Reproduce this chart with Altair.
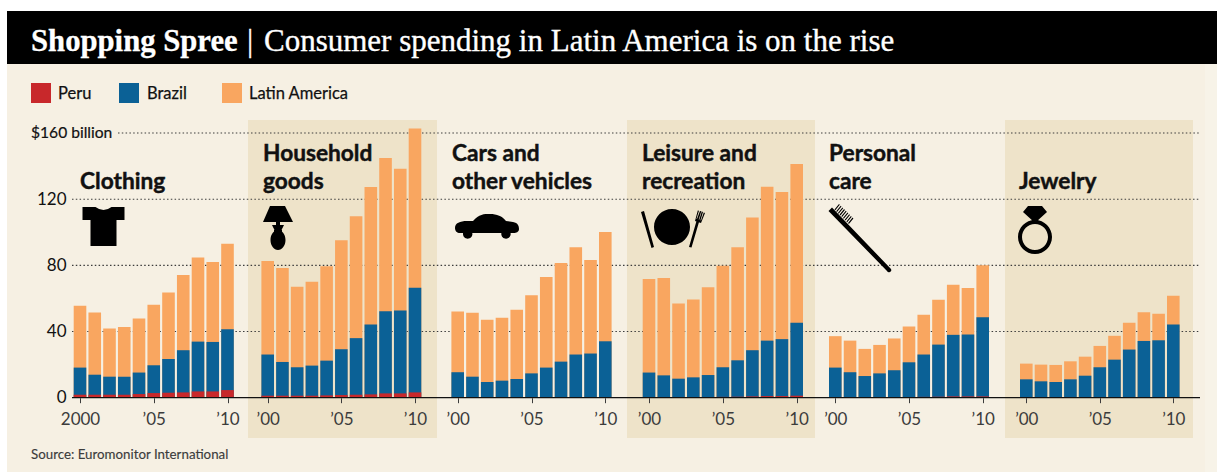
import altair as alt
import pandas as pd

YEARS = list(range(2000, 2011))

CATEGORIES = ["Clothing", "Household goods", "Cars and other vehicles",
              "Leisure and recreation", "Personal care", "Jewelry"]

# Consumer spending, billions of dollars
LATAM = [
    [55.6, 51.5, 41.8, 42.8, 47.9, 56.2, 63.6, 74.1, 84.8, 82.0, 93.1],
    [82.6, 78.4, 67.1, 70.1, 79.4, 95.2, 109.7, 127.3, 144.9, 138.4, 162.7],
    [52.1, 51.3, 47.1, 48.3, 53.1, 62.0, 72.9, 81.4, 90.9, 83.2, 100.2],
    [71.7, 72.3, 57.0, 59.4, 66.7, 79.8, 90.9, 108.9, 127.5, 124.4, 141.2],
    [37.2, 34.5, 29.5, 31.9, 35.8, 43.0, 50.1, 59.2, 68.3, 66.3, 80.0],
    [20.6, 20.0, 19.8, 22.0, 24.8, 31.3, 37.4, 45.3, 51.7, 50.7, 61.6],
]
BRAZIL = [
    [18.2, 13.9, 12.7, 12.7, 15.2, 19.6, 23.4, 28.7, 33.9, 33.7, 41.4],
    [26.1, 21.6, 18.4, 19.4, 22.4, 29.3, 36.0, 44.2, 52.3, 52.7, 66.5],
    [15.4, 12.7, 9.5, 10.3, 11.3, 14.7, 18.2, 21.8, 26.1, 26.7, 34.1],
    [15.2, 13.5, 11.5, 12.3, 13.7, 18.4, 22.6, 28.7, 34.5, 35.4, 45.3],
    [18.2, 15.4, 13.1, 14.7, 16.6, 21.4, 26.1, 32.1, 38.0, 38.2, 48.7],
    [11.1, 9.9, 9.5, 11.1, 13.3, 18.4, 23.0, 29.1, 34.3, 34.7, 44.2],
]
PERU = [
    [1.8, 1.8, 1.8, 1.8, 2.2, 2.8, 3.0, 3.2, 3.8, 3.8, 4.6],
    [1.2, 1.2, 1.2, 1.2, 1.4, 1.6, 1.8, 2.0, 2.6, 2.6, 3.2],
    [0, 0, 0, 0, 0, 0, 0, 0, 0, 0, 0],
    [0.2, 0.2, 0.3, 0.3, 0.4, 0.5, 0.6, 0.8, 1.0, 1.0, 1.2],
    [0.2, 0.2, 0.2, 0.2, 0.3, 0.4, 0.5, 0.6, 0.8, 0.8, 0.8],
    [0, 0, 0, 0, 0, 0, 0, 0, 0, 0, 0],
]

Y_TICKS = [0, 40, 80, 120]
GRID_VALUES = [40, 80, 120]

PERU_RED = "#c8282b"
BRAZIL_BLUE = "#0b6196"
LATAM_ORANGE = "#f9a660"
CREAM = "#f6f0e3"
TINT = "#eee3c9"
INK = "#111111"
GREY = "#3c3c3c"
SANS = "Lato"
SLAB = "Liberation Serif"

# x-range of each small multiple: pixel centre of its 2000 and 2010 bars
PANEL_RANGES = [(80, 227.5), (267.7, 415), (457.7, 605.3),
                (649, 796.7), (835.3, 982.7), (1026.3, 1173.3)]

y_scale = alt.Scale(domain=[0, 160], range=[397.7, 133], nice=False, zero=False)
one_row = pd.DataFrame({"n": [0]})


def rect(x, x2, y, y2, color):
    return alt.Chart(one_row).mark_rect(color=color).encode(
        x=alt.value(x), x2=alt.value(x2), y=alt.value(y), y2=alt.value(y2))


def label(text, x, y, size, font=SANS, weight="normal", color=INK, heft=0):
    return alt.Chart(one_row).mark_text(
        text=text, align="left", baseline="alphabetic", font=font,
        fontSize=size, fontWeight=weight, color=color, stroke=color, strokeWidth=heft,
    ).encode(x=alt.value(x), y=alt.value(y))


def heading(text, x, y):
    return label(text, x, y, 22.7, weight="bold", heft=0.45)


def icon(path, x, y):
    # size 4 makes one unit of the symbol path equal one pixel
    return alt.Chart(one_row).mark_point(
        shape=path, size=4, filled=True, color="#000000", opacity=1, strokeWidth=0,
    ).encode(x=alt.value(x), y=alt.value(y))


def bars(panel, values, color, with_axis):
    table = pd.DataFrame({"year": YEARS, "value": values})
    lo, hi = PANEL_RANGES[panel]
    first_label = "'2000'" if panel == 0 else "'’00'"
    x_axis = alt.Axis(
        orient="bottom",
        values=[2000, 2005, 2010], title=None, domain=False, grid=False,
        labelExpr=f"datum.value == 2000 ? {first_label} : "
                  "(datum.value == 2005 ? '’05' : '’10')",
        labelFont=SANS, labelFontSize=17, labelColor=GREY, labelPadding=9,
        tickColor=GREY, tickSize=5, tickWidth=1, offset=-74.3, zindex=1,
        labelFlush=False, labelOverlap=False, labelBound=False,
    ) if with_axis else None
    y_axis = alt.Axis(
        orient="left",
        values=Y_TICKS, title=None, domain=False, ticks=False, grid=False,
        labelFont=SANS, labelFontSize=17, labelColor=INK, labelPadding=2,
        offset=-68, zindex=1,
    ) if (with_axis and panel == 0) else None
    return alt.Chart(table).mark_bar(size=12.6, color=color, orient="vertical").encode(
        x=alt.X("year:Q", axis=x_axis,
                scale=alt.Scale(domain=[2000, 2010], range=[lo, hi], nice=False,
                                zero=False, padding=0)),
        y=alt.Y("value:Q", axis=y_axis, scale=y_scale, stack=None),
    )


T_SHIRT = "M-21,-19 L-8,-19 Q0,-13 8,-19 L21,-19 L21,-6 L13,-6 L13,20 L-13,20 L-13,-6 L-21,-6 Z"
LAMP = ("M-8,-22 L7,-22 L15,-6 L-15,-6 Z M-2,-6 L2,-6 L2,-3 L-2,-3 Z "
        "M-6,-3 L6,-3 L3,3 L-3,3 Z "
        "M-7.5,12 A7.5,10 0 1,1 7.5,12 A7.5,10 0 1,1 -7.5,12 Z "
        "M-4,2 L4,2 L4,5 L-4,5 Z")
CAR = ("M-32,2 C-32,-3 -27,-5 -20,-5 L-14,-5 C-8,-12 -3,-12 3,-12 C10,-12 15,-10 19,-5 "
       "L26,-4 C31,-3 32,0 32,3 C32,6 29,7 27,7 L-27,7 C-30,7 -32,5 -32,2 Z "
       "M-24,8 A4.7,4.7 0 1,1 -14.6,8 A4.7,4.7 0 1,1 -24,8 Z "
       "M14.3,8 A4.7,4.7 0 1,1 23.7,8 A4.7,4.7 0 1,1 14.3,8 Z")
PLATE = ("M-18,0 A18,18 0 1,1 18,0 A18,18 0 1,1 -18,0 Z "
         "M-31,-15 L-28,-16 L-18,20 L-20.5,21 Z "
         "M17,20 L19.5,20.5 L27,-5 L24.5,-6 Z "
         "M23,-6 L29,-4 L33,-14 L31.8,-14.4 L29,-6.5 L28.5,-6.7 L31,-15 L29.8,-15.4 L27.2,-7.2 "
         "L26.7,-7.4 L29.3,-15.7 L28,-16 L25,-8 L24.5,-8.2 L27,-16.3 L25.8,-16.6 Z")
# Toothbrush: a rounded handle and a compact block of short bristles
BRISTLES = " ".join(
    f"M{-25.5 + i * 1.7:.1f},{-30.5 + i * 1.7:.1f} L{-21 + i * 1.7:.1f},{-36 + i * 1.7:.1f} "
    f"L{-20.2 + i * 1.7:.1f},{-35.2 + i * 1.7:.1f} L{-24.7 + i * 1.7:.1f},{-29.7 + i * 1.7:.1f} Z"
    for i in range(9))
BRUSH = ("M-31.5,-29 L-28,-32.5 L31,29 Q32,31 30,32 Q28,33 27,31 Z " + BRISTLES)
RING = ("M-7,-21 L7,-21 L12,-15 L1,-5 L-1,-5 L-12,-15 Z "
        "M-17,10 A17,17 0 1,1 17,10 A17,17 0 1,1 -17,10 Z "
        "M-13,10 A13,13 0 1,0 13,10 A13,13 0 1,0 -13,10 Z")

dots = dict(color=GREY, strokeDash=[1.5, 2.3], strokeWidth=1.1)

layers = [
    rect(7, 1217, 64, 472, CREAM),
    rect(1205, 1217, 64, 472, "#f7f3e8"),
    rect(7, 1217, 11, 64, "#000000"),
    rect(248, 437, 120, 438, TINT),
    rect(627, 815, 120, 438, TINT),
    rect(1005, 1193, 120, 438, TINT),
    label("Shopping Spree", 31, 51, 30.7, SLAB, "bold", "#ffffff", 0.3),
    label("|", 247, 51, 31, SLAB, "normal", "#ffffff", 0.3),
    label("Consumer spending in Latin America is on the rise", 264, 51, 31, SLAB, "normal", "#ffffff", 0.35),
    rect(31, 51, 83, 103, PERU_RED),
    rect(119, 139, 83, 103, BRAZIL_BLUE),
    rect(222, 242, 83, 103, LATAM_ORANGE),
    label("Peru", 58, 99, 16.5, heft=0.25),
    label("Brazil", 147, 99, 16.5, heft=0.25),
    label("Latin America", 249, 99, 16.5, heft=0.25),
    alt.Chart(pd.DataFrame({"v": GRID_VALUES})).mark_rule(**dots).encode(
        x=alt.value(72), x2=alt.value(1200),
        y=alt.Y("v:Q", axis=None, scale=y_scale)),
    alt.Chart(pd.DataFrame({"v": [160]})).mark_rule(**dots).encode(
        x=alt.value(118), x2=alt.value(1200),
        y=alt.Y("v:Q", axis=None, scale=y_scale)),
    alt.Chart(pd.DataFrame({"v": [160]})).mark_text(
        text="$160 billion", align="left", baseline="middle", font=SANS, fontSize=15.6,
        color=INK, stroke=INK, strokeWidth=0.2,
    ).encode(x=alt.value(31), y=alt.Y("v:Q", axis=None, scale=y_scale)),
]

for i in range(len(CATEGORIES)):
    layers.append(bars(i, LATAM[i], LATAM_ORANGE, True))
    layers.append(bars(i, BRAZIL[i], BRAZIL_BLUE, False))
    layers.append(bars(i, PERU[i], PERU_RED, False))

layers += [
    alt.Chart(pd.DataFrame({"v": [0]})).mark_rule(color=INK, strokeWidth=1.3).encode(
        x=alt.value(72), x2=alt.value(1200), y=alt.Y("v:Q", axis=None, scale=y_scale)),
    heading("Clothing", 80, 189),
    heading("Household", 263, 161),
    heading("goods", 263, 189),
    heading("Cars and", 452, 161),
    heading("other vehicles", 452, 189),
    heading("Leisure and", 642, 161),
    heading("recreation", 642, 189),
    heading("Personal", 829, 161),
    heading("care", 829, 189),
    heading("Jewelry", 1019, 189),
    icon(T_SHIRT, 103.5, 226),
    icon(LAMP, 278, 228),
    icon(CAR, 487, 226),
    icon(PLATE, 672, 227),
    icon(BRUSH, 860, 240),
    icon(RING, 1035, 227),
    label("Source: Euromonitor International", 31, 459, 13.3, color=GREY, heft=0.15),
]

chart = alt.layer(*layers).resolve_scale(x="independent").resolve_axis(
    x="independent", y="independent",
).properties(
    width=1217, height=472, padding=0, background="#ffffff",
    autosize=alt.AutoSizeParams(type="none"),
).configure_view(stroke=None)

chart.save("out.html", embed_options={"renderer": "svg", "actions": False})
